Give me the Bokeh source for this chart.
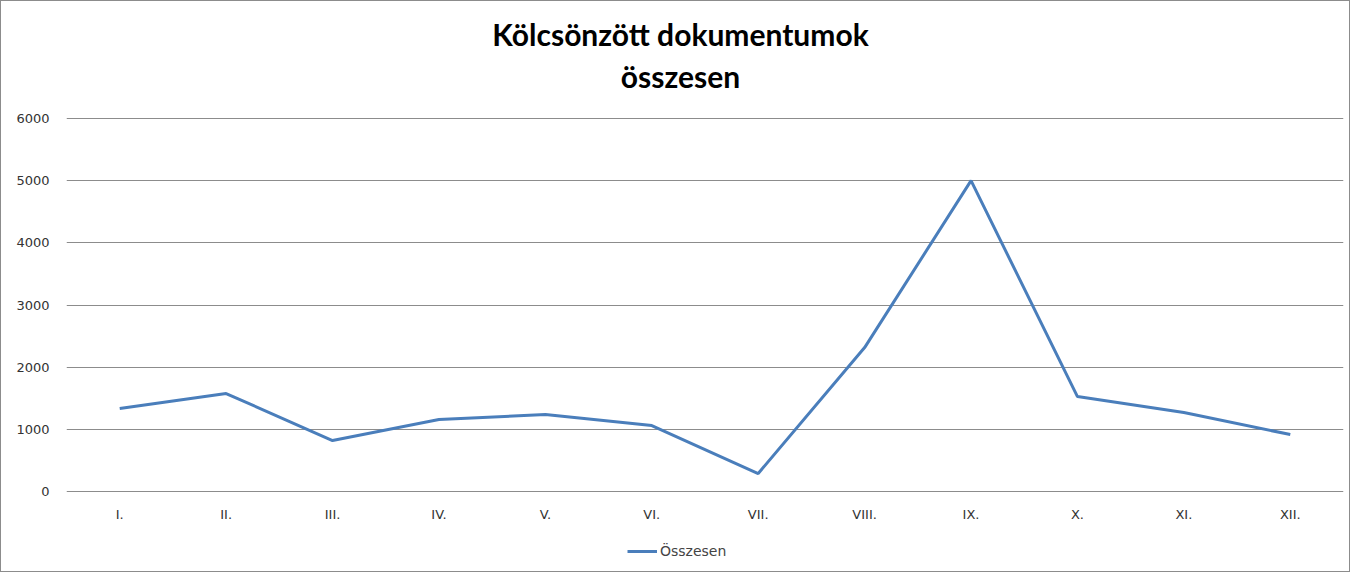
from bokeh.plotting import figure
from bokeh.models import Legend, LegendItem, ColumnDataSource, Label, Range1d
from bokeh.embed import file_html
from bokeh.resources import INLINE

months = ["I.", "II.", "III.", "IV.", "V.", "VI.", "VII.", "VIII.", "IX.", "X.", "XI.", "XII."]
osszesen = [1334, 1576, 820, 1158, 1238, 1061, 289, 2315, 5000, 1527, 1270, 916]
y_ticks = [0, 1000, 2000, 3000, 4000, 5000, 6000]
title_lines = ["Kölcsönzött dokumentumok", "összesen"]
series_name = "Összesen"

src = ColumnDataSource(dict(m=months, v=osszesen))
lab = ColumnDataSource(dict(m=months, base=[y_ticks[0]] * len(months)))

W, H = 1350, 572
p = figure(x_range=months, y_range=Range1d(-1319, 7882), width=W, height=H, title=None,
           output_backend="svg", toolbar_location=None, tools="",
           min_border_left=65, min_border_right=8, min_border_top=0, min_border_bottom=0)
p.styles = {"border": "1px solid #8c8c8c"}
p.outline_line_color = None
p.background_fill_color = "white"

for t, sy in zip(title_lines, (540, 498)):
    p.add_layout(Label(x=614, y=sy, x_units="screen", y_units="screen", text=t,
                       text_align="center", text_baseline="middle",
                       text_font="Lato", text_font_style="bold",
                       text_font_size="30px", text_color="#000000"), "center")

r = p.line("m", "v", source=src, line_color="#4a7ebb", line_width=3)

p.text(x="m", y="base", text="m", source=lab, y_offset=23,
       text_align="center", text_baseline="middle", text_font_size="13px",
       text_color="#333333", text_font={"value": "DejaVu Sans"})

p.xgrid.grid_line_color = None
p.xaxis.visible = False
p.ygrid.grid_line_color = "#8c8c8c"
p.ygrid.grid_line_width = 1
p.yaxis.ticker = y_ticks
p.yaxis.axis_line_color = None
p.yaxis.major_tick_line_color = None
p.yaxis.minor_tick_line_color = None
p.yaxis.major_label_text_font = "DejaVu Sans"
p.yaxis.major_label_text_font_size = "13px"
p.yaxis.major_label_text_color = "#333333"
p.yaxis.major_label_standoff = 11

legend = Legend(items=[LegendItem(label=series_name, renderers=[r])],
                location=(561, 12), orientation="horizontal",
                border_line_color=None, background_fill_alpha=0,
                glyph_width=30, label_text_font="DejaVu Sans",
                label_text_font_size="14px", label_standoff=3, padding=0, margin=0)
p.add_layout(legend, "center")

open("out.html", "w").write(file_html(p, INLINE))
